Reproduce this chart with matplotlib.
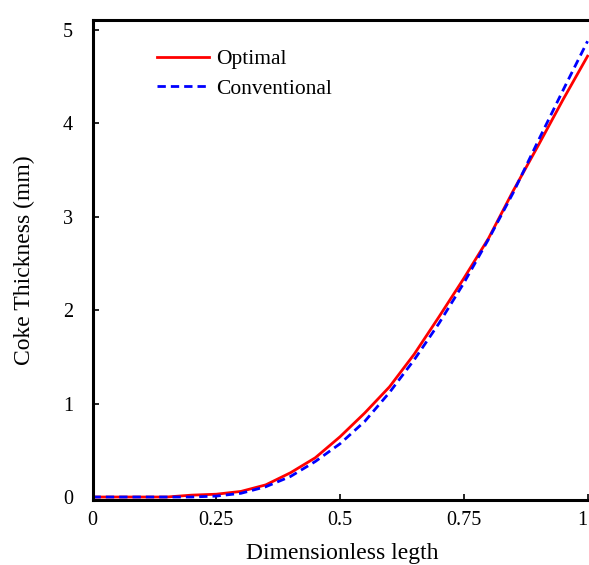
import matplotlib
matplotlib.use('Agg')
import matplotlib.pyplot as plt

# longitud adimensional y espesor de coque (mm)
x = [0, 0.05, 0.1, 0.15, 0.2, 0.25, 0.3, 0.35, 0.4, 0.45, 0.5,
     0.55, 0.6, 0.65, 0.7, 0.75, 0.8, 0.85, 0.9, 0.95, 1.0]
optimal = [0.0, 0.0, 0.0, 0.0, 0.02, 0.03, 0.06, 0.13, 0.26, 0.42, 0.645,
           0.9, 1.18, 1.53, 1.93, 2.34, 2.77, 3.28, 3.76, 4.25, 4.72]
conventional = [0.0, 0.0, 0.0, 0.0, 0.0, 0.01, 0.04, 0.11, 0.22, 0.38, 0.57,
                0.81, 1.12, 1.47, 1.86, 2.29, 2.76, 3.26, 3.81, 4.35, 4.88]

xticks = [0, 0.25, 0.5, 0.75, 1]
xlabels = ['0', '0.25', '0.5', '0.75', '1']
yticks = [0, 1, 2, 3, 4, 5]

plt.rcParams['font.family'] = ['Liberation Serif', 'DejaVu Serif']

fig = plt.figure(figsize=(5.89, 5.65), dpi=100)
ax = fig.add_axes([92.5 / 589, 65 / 565, 500 / 589, 480 / 565])

ax.plot(x, optimal, color='#ff0000', lw=2.0, label='Optimal')
ax.plot(x, conventional, color='#0000ff', lw=2.0, dashes=(3, 1.8), label='Conventional')

ax.set_xlim(0, 1.01)
ax.set_ylim(-0.032, 5.107)
ax.set_xticks(xticks)
ax.set_xticklabels(xlabels)
ax.get_xticklabels()[-1].set_horizontalalignment('right')
ax.set_yticks(yticks)
ax.tick_params(direction='in', length=4, width=1.2, labelsize=14.5)
ax.tick_params(axis='y', pad=14)
ax.tick_params(axis='x', pad=8)
for s in ax.spines.values():
    s.set_linewidth(2.2)
ax.spines['right'].set_visible(False)

ax.set_xlabel('Dimensionless legth', fontsize=17, labelpad=9)
ax.set_ylabel('Coke Thickness (mm)', fontsize=17, labelpad=20)

ax.legend(loc='upper left', bbox_to_anchor=(0.09, 0.98), frameon=False,
          fontsize=15.5, handlelength=2.4, handletextpad=0.35, labelspacing=0.45)

fig.savefig('out.png', dpi=100)
